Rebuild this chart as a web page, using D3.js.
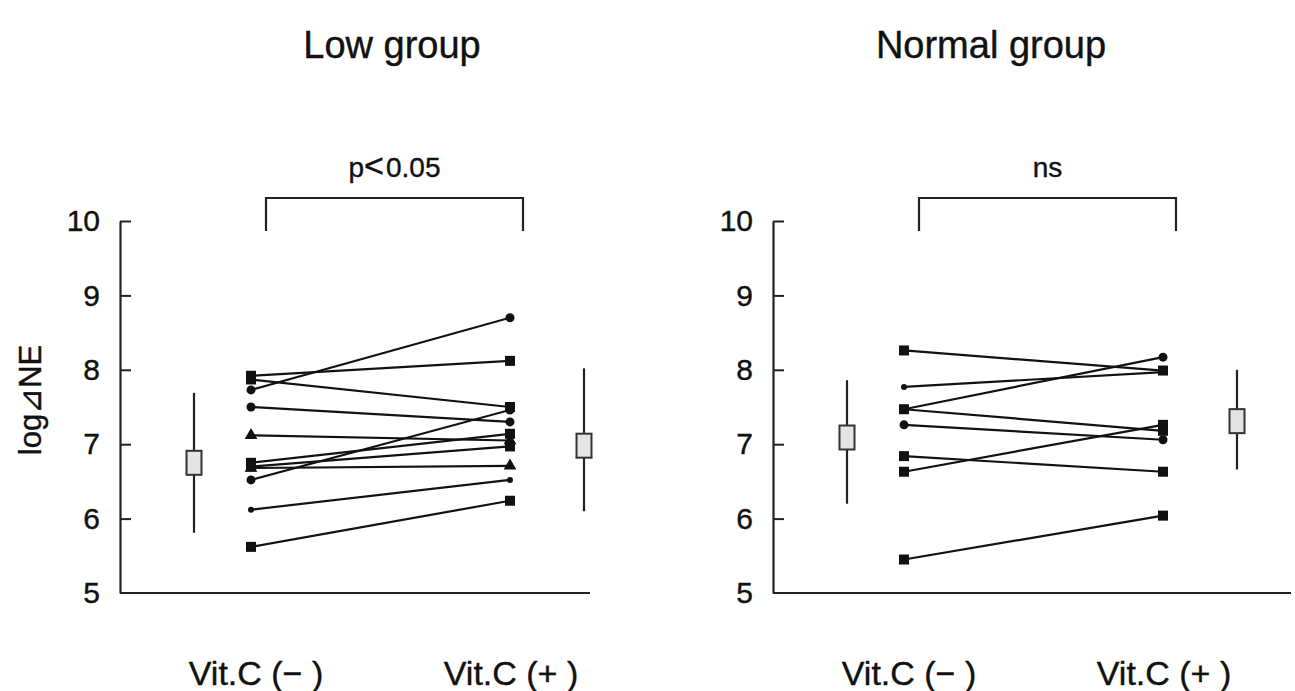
<!DOCTYPE html>
<html>
<head>
<meta charset="utf-8">
<script src="https://cdn.jsdelivr.net/npm/d3@7"></script>
<style>
  body { margin: 0; background: #fff; }
  svg { display: block; }
  text { font-family: "Liberation Sans", Arial, Helvetica, sans-serif; fill: #111; stroke: #111; stroke-width: 0.4px; }
</style>
</head>
<body>
<script>
// values (log ⊿NE)
var groups = ["Low group", "Normal group"];
var conditions = ["Vit.C(−)", "Vit.C(+)"];
var yTicks = [5, 6, 7, 8, 9, 10];
var sigLabels = [["p", "<", "0.05"], ["ns"]];

var lowPre  = [7.73, 7.92, 7.87, 7.50, 7.12, 6.75, 6.68, 6.52, 6.70, 6.12, 5.62];
var lowPost = [8.70, 8.12, 7.50, 7.30, 7.05, 7.14, 6.71, 7.46, 6.97, 6.52, 6.24];
var lowShape = ["circle", "square", "square", "circle", "triangle", "square", "triangle", "circle", "square", "dot", "square"];

var normPre  = [8.26, 7.77, 7.47, 7.47, 7.26, 6.84, 6.63, 5.45];
var normPost = [7.99, 7.97, 8.17, 7.18, 7.06, 6.63, 7.26, 6.04];
var normShape = ["square", "dot", "circle", "square", "circle", "square", "square", "square"];

// mean and error bar ends (low, high) for each condition
var lowSummary  = [[6.75, 5.81, 7.69], [6.98, 6.10, 8.02]];
var normSummary = [[7.09, 6.20, 7.86], [7.31, 6.66, 8.00]];

var W = 1295, H = 691;
var svg = d3.select("body").append("svg").attr("width", W).attr("height", H);

var y = d3.scaleLinear().domain([5, 10]).range([593, 221]);

var panels = [
  {title: groups[0], sig: sigLabels[0], pre: lowPre, post: lowPost, shape: lowShape, summary: lowSummary, x0: 120, x1: 590, titleX: 392},
  {title: groups[1], sig: sigLabels[1], pre: normPre, post: normPost, shape: normShape, summary: normSummary, x0: 773, x1: 1291, titleX: 991}
];

function drawMarker(g, shape, cx, cy) {
  if (shape == "square") {
    g.append("rect").attr("x", cx - 5).attr("y", cy - 5).attr("width", 10).attr("height", 10).attr("fill", "#111");
  } else if (shape == "circle") {
    g.append("circle").attr("cx", cx).attr("cy", cy).attr("r", 4.5).attr("fill", "#111");
  } else if (shape == "triangle") {
    g.append("path").attr("d", d3.symbol().type(d3.symbolTriangle).size(70)).attr("transform", "translate(" + cx + "," + cy + ")").attr("fill", "#111");
  } else {
    g.append("circle").attr("cx", cx).attr("cy", cy).attr("r", 3).attr("fill", "#111");
  }
}

panels.forEach(function(p, pi) {
  var g = svg.append("g");
  var ax = p.x0;
  // positions inside the panel: summary(-), pre, post, summary(+)
  var x = d3.scalePoint().domain(["s0", conditions[0], conditions[1], "s1"]).range([0, 1]);
  var xPos = d3.scaleLinear().domain([0, 1 / 3, 2 / 3, 1]).range([ax + 74, ax + 131, ax + 390, ax + 464]);
  function px(k) { return xPos(x(k)); }

  // y axis with inward ticks
  var axis = d3.axisLeft(y).tickValues(yTicks).tickSizeInner(-11).tickSizeOuter(0).tickPadding(20).tickFormat(d3.format("d"));
  var ag = g.append("g").attr("transform", "translate(" + ax + ",0)").call(axis);
  ag.select(".domain").attr("stroke", "#222").attr("stroke-width", 2.2);
  ag.selectAll(".tick line").attr("stroke", "#222").attr("stroke-width", 2);
  ag.selectAll(".tick line").filter(function(d) { return d == 5; }).remove();
  ag.selectAll(".tick text").attr("font-size", 30).attr("fill", "#111")
    .style("font-family", '"Liberation Sans", Arial, sans-serif');

  // baseline
  g.append("line").attr("x1", ax).attr("x2", p.x1).attr("y1", y(5)).attr("y2", y(5))
    .attr("stroke", "#222").attr("stroke-width", 2.2);

  // subject lines
  p.pre.forEach(function(v, i) {
    g.append("line")
      .attr("x1", px(conditions[0])).attr("y1", y(v))
      .attr("x2", px(conditions[1])).attr("y2", y(p.post[i]))
      .attr("stroke", "#111").attr("stroke-width", 2.2);
  });
  p.pre.forEach(function(v, i) {
    drawMarker(g, p.shape[i], px(conditions[0]), y(v));
    drawMarker(g, p.shape[i], px(conditions[1]), y(p.post[i]));
  });

  // mean +- error markers
  ["s0", "s1"].forEach(function(k, j) {
    var s = p.summary[j];
    var cx = px(k);
    g.append("line").attr("x1", cx).attr("x2", cx).attr("y1", y(s[2])).attr("y2", y(s[1]))
      .attr("stroke", "#222").attr("stroke-width", 2.2);
    g.append("rect").attr("x", cx - 7.5).attr("y", y(s[0]) - 12).attr("width", 15).attr("height", 24)
      .attr("fill", "#e4e4e4").attr("stroke", "#333").attr("stroke-width", 2);
  });

  // significance bracket
  var b0 = px(conditions[0]) + 15, b1 = px(conditions[1]) + 13;
  g.append("path")
    .attr("d", "M" + b0 + ",231V198H" + b1 + "V231")
    .attr("fill", "none").attr("stroke", "#222").attr("stroke-width", 2.2);
  var st = g.append("text").attr("x", (b0 + b1) / 2).attr("y", 177).attr("text-anchor", "middle")
    .attr("font-size", 28);
  p.sig.forEach(function(s) {
    st.append("tspan").attr("font-size", s == "<" ? 34 : 28).attr("dx", s == "0.05" ? 2 : 0).text(s);
  });

  // title
  g.append("text").attr("x", p.titleX).attr("y", 58).attr("text-anchor", "middle")
    .attr("font-size", 38).text(p.title);

  // category labels
  conditions.forEach(function(c, j) {
    g.append("text").attr("x", px(c) + (j == 0 ? 5 : 1)).attr("y", 685).attr("text-anchor", "middle")
      .attr("font-size", 34).text(c.replace("(", " (").replace(")", " )"));
  });
});

// y axis title
svg.append("text").attr("transform", "translate(41,400) rotate(-90)").attr("text-anchor", "middle")
  .attr("font-size", 31).text("log⊿NE");
</script>
</body>
</html>
